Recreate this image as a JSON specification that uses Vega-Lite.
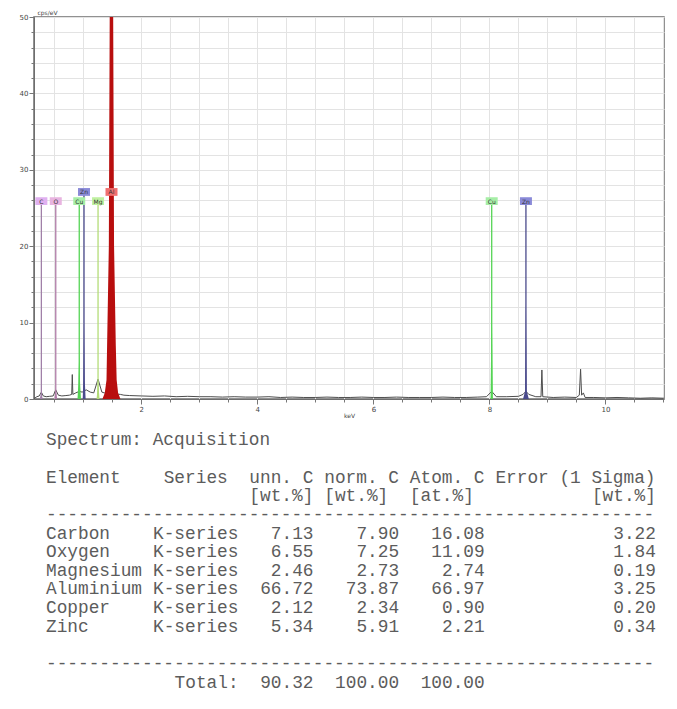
{
 "$schema": "https://vega.github.io/schema/vega-lite/v6.json",
 "background": "white",
 "padding": {"left": 18, "top": 8, "right": 0, "bottom": 0},
 "spacing": 4,
 "config": {
  "view": {"stroke": "#6e6e6e", "strokeWidth": 1.5},
  "font": "DejaVu Sans",
  "axis": {"domainColor": "#6e6e6e", "tickColor": "#777777", "labelColor": "#444444", "titleColor": "#444444", "labelFont": "DejaVu Sans", "titleFont": "DejaVu Sans"}
 },
 "datasets": {
  "spectrum": [
   {"e":0.15,"c":0.05},{"e":0.2,"c":0.3},{"e":0.24,"c":0.4},{"e":0.277,"c":0.9},{"e":0.31,"c":0.4},{"e":0.36,"c":0.3},{"e":0.42,"c":0.35},{"e":0.48,"c":0.4},{"e":0.525,"c":1.2},{"e":0.57,"c":0.5},{"e":0.63,"c":0.4},{"e":0.7,"c":0.45},{"e":0.76,"c":0.5},{"e":0.8,"c":0.6},{"e":0.81,"c":3.2},{"e":0.82,"c":0.6},{"e":0.87,"c":0.8},{"e":0.93,"c":1.0},{"e":0.98,"c":0.9},{"e":1.05,"c":1.2},{"e":1.12,"c":0.9},{"e":1.18,"c":0.8},{"e":1.254,"c":2.6},{"e":1.32,"c":0.9},{"e":1.36,"c":0.8},{"e":1.64,"c":0.6},{"e":1.7,"c":0.5},{"e":1.8,"c":0.45},{"e":2.0,"c":0.4},{"e":2.2,"c":0.35},{"e":2.4,"c":0.4},{"e":2.6,"c":0.3},{"e":2.8,"c":0.35},{"e":3.0,"c":0.3},{"e":3.2,"c":0.3},{"e":3.4,"c":0.25},{"e":3.6,"c":0.3},{"e":3.8,"c":0.25},{"e":4.0,"c":0.25},{"e":4.2,"c":0.3},{"e":4.4,"c":0.2},{"e":4.6,"c":0.25},{"e":4.8,"c":0.2},{"e":5.0,"c":0.2},{"e":5.2,"c":0.25},{"e":5.4,"c":0.2},{"e":5.6,"c":0.2},{"e":5.8,"c":0.25},{"e":6.0,"c":0.2},{"e":6.2,"c":0.2},{"e":6.4,"c":0.25},{"e":6.6,"c":0.2},{"e":6.8,"c":0.2},{"e":7.0,"c":0.2},{"e":7.2,"c":0.25},{"e":7.4,"c":0.2},{"e":7.6,"c":0.2},{"e":7.8,"c":0.25},{"e":7.95,"c":0.3},{"e":8.04,"c":1.0},{"e":8.12,"c":0.3},{"e":8.3,"c":0.3},{"e":8.5,"c":0.35},{"e":8.58,"c":0.6},{"e":8.63,"c":1.0},{"e":8.68,"c":0.6},{"e":8.8,"c":0.3},{"e":8.89,"c":0.3},{"e":8.905,"c":3.8},{"e":8.92,"c":0.3},{"e":9.1,"c":0.2},{"e":9.3,"c":0.25},{"e":9.5,"c":0.2},{"e":9.55,"c":0.5},{"e":9.572,"c":3.9},{"e":9.59,"c":0.5},{"e":9.62,"c":0.8},{"e":9.65,"c":0.2},{"e":9.8,"c":0.2},{"e":10.0,"c":0.15},{"e":10.2,"c":0.2},{"e":10.4,"c":0.15},{"e":10.6,"c":0.1},{"e":10.8,"c":0.15},{"e":11.01,"c":0.1}
  ],
  "peaks": [
   {"element":"C","peak":"C K","e":0.25,"c":0},{"element":"C","peak":"C K","e":0.277,"c":0.9},{"element":"C","peak":"C K","e":0.3,"c":0},
   {"element":"O","peak":"O K","e":0.5,"c":0},{"element":"O","peak":"O K","e":0.525,"c":1.2},{"element":"O","peak":"O K","e":0.55,"c":0},
   {"element":"Cu","peak":"Cu L","e":0.9,"c":0},{"element":"Cu","peak":"Cu L","e":0.915,"c":2.0},{"element":"Cu","peak":"Cu L","e":0.93,"c":6.0},{"element":"Cu","peak":"Cu L","e":0.945,"c":2.0},{"element":"Cu","peak":"Cu L","e":0.96,"c":0},
   {"element":"Zn","peak":"Zn L","e":0.99,"c":0},{"element":"Zn","peak":"Zn L","e":1.0,"c":2.5},{"element":"Zn","peak":"Zn L","e":1.012,"c":10.0},{"element":"Zn","peak":"Zn L","e":1.025,"c":2.5},{"element":"Zn","peak":"Zn L","e":1.04,"c":0},
   {"element":"Mg","peak":"Mg K","e":1.23,"c":0},{"element":"Mg","peak":"Mg K","e":1.254,"c":2.6},{"element":"Mg","peak":"Mg K","e":1.28,"c":0},
   {"element":"Al","peak":"Al K","e":1.33,"c":0},{"element":"Al","peak":"Al K","e":1.37,"c":0.8},{"element":"Al","peak":"Al K","e":1.4,"c":2.5},{"element":"Al","peak":"Al K","e":1.41,"c":7},{"element":"Al","peak":"Al K","e":1.44,"c":20},{"element":"Al","peak":"Al K","e":1.455,"c":50},{"element":"Al","peak":"Al K","e":1.47,"c":80},{"element":"Al","peak":"Al K","e":1.486,"c":90},{"element":"Al","peak":"Al K","e":1.5,"c":80},{"element":"Al","peak":"Al K","e":1.515,"c":50},{"element":"Al","peak":"Al K","e":1.53,"c":20},{"element":"Al","peak":"Al K","e":1.56,"c":7},{"element":"Al","peak":"Al K","e":1.575,"c":2.5},{"element":"Al","peak":"Al K","e":1.6,"c":0.8},{"element":"Al","peak":"Al K","e":1.64,"c":0},
   {"element":"Cu","peak":"Cu K","e":8.02,"c":0},{"element":"Cu","peak":"Cu K","e":8.04,"c":13.0},{"element":"Cu","peak":"Cu K","e":8.06,"c":0},
   {"element":"Zn","peak":"Zn K","e":8.58,"c":0},{"element":"Zn","peak":"Zn K","e":8.615,"c":1.0},{"element":"Zn","peak":"Zn K","e":8.63,"c":12.7},{"element":"Zn","peak":"Zn K","e":8.645,"c":1.0},{"element":"Zn","peak":"Zn K","e":8.68,"c":0}
  ],
  "markers": [
   {"element":"C","label":"C","e":0.277,"tier":1},
   {"element":"O","label":"O","e":0.525,"tier":1},
   {"element":"Cu","label":"Cu","e":0.93,"tier":1},
   {"element":"Zn","label":"Zn","e":1.012,"tier":2},
   {"element":"Mg","label":"Mg","e":1.254,"tier":1},
   {"element":"Al","label":"Al","e":1.486,"tier":2},
   {"element":"Cu","label":"Cu","e":8.04,"tier":1},
   {"element":"Zn","label":"Zn","e":8.63,"tier":1}
  ],
  "report": [
   {"line":0,"col":0,"text":"Spectrum: Acquisition","type":"text"},
   {"line":2,"col":0,"text":"Element","type":"text"},
   {"line":2,"col":11,"text":"Series","type":"text"},
   {"line":2,"col":19,"text":"unn. C","type":"text"},
   {"line":2,"col":26,"text":"norm. C","type":"text"},
   {"line":2,"col":34,"text":"Atom. C","type":"text"},
   {"line":2,"col":42,"text":"Error (1 Sigma)","type":"text"},
   {"line":3,"col":19,"text":"[wt.%]","type":"text"},
   {"line":3,"col":26,"text":"[wt.%]","type":"text"},
   {"line":3,"col":34,"text":"[at.%]","type":"text"},
   {"line":3,"col":57,"text":"[wt.%]","type":"num"},
   {"line":4,"col":0,"text":"---------------------------------------------------------","type":"text"},
   {"line":5,"col":0,"text":"Carbon","type":"text"},{"line":5,"col":10,"text":"K-series","type":"text"},{"line":5,"col":25,"text":"7.13","type":"num"},{"line":5,"col":33,"text":"7.90","type":"num"},{"line":5,"col":41,"text":"16.08","type":"num"},{"line":5,"col":57,"text":"3.22","type":"num"},
   {"line":6,"col":0,"text":"Oxygen","type":"text"},{"line":6,"col":10,"text":"K-series","type":"text"},{"line":6,"col":25,"text":"6.55","type":"num"},{"line":6,"col":33,"text":"7.25","type":"num"},{"line":6,"col":41,"text":"11.09","type":"num"},{"line":6,"col":57,"text":"1.84","type":"num"},
   {"line":7,"col":0,"text":"Magnesium","type":"text"},{"line":7,"col":10,"text":"K-series","type":"text"},{"line":7,"col":25,"text":"2.46","type":"num"},{"line":7,"col":33,"text":"2.73","type":"num"},{"line":7,"col":41,"text":"2.74","type":"num"},{"line":7,"col":57,"text":"0.19","type":"num"},
   {"line":8,"col":0,"text":"Aluminium","type":"text"},{"line":8,"col":10,"text":"K-series","type":"text"},{"line":8,"col":25,"text":"66.72","type":"num"},{"line":8,"col":33,"text":"73.87","type":"num"},{"line":8,"col":41,"text":"66.97","type":"num"},{"line":8,"col":57,"text":"3.25","type":"num"},
   {"line":9,"col":0,"text":"Copper","type":"text"},{"line":9,"col":10,"text":"K-series","type":"text"},{"line":9,"col":25,"text":"2.12","type":"num"},{"line":9,"col":33,"text":"2.34","type":"num"},{"line":9,"col":41,"text":"0.90","type":"num"},{"line":9,"col":57,"text":"0.20","type":"num"},
   {"line":10,"col":0,"text":"Zinc","type":"text"},{"line":10,"col":10,"text":"K-series","type":"text"},{"line":10,"col":25,"text":"5.34","type":"num"},{"line":10,"col":33,"text":"5.91","type":"num"},{"line":10,"col":41,"text":"2.21","type":"num"},{"line":10,"col":57,"text":"0.34","type":"num"},
   {"line":12,"col":0,"text":"---------------------------------------------------------","type":"text"},
   {"line":13,"col":18,"text":"Total:","type":"num"},{"line":13,"col":25,"text":"90.32","type":"num"},{"line":13,"col":33,"text":"100.00","type":"num"},{"line":13,"col":41,"text":"100.00","type":"num"}
  ]
 },
 "vconcat": [
  {
   "width": 630,
   "height": 382,
   "resolve": {"axis": {"x": "independent", "y": "independent"}},
   "layer": [
    {
     "data": {"name": "spectrum"},
     "mark": {"type": "line", "color": "#4d4d4d", "strokeWidth": 1, "clip": true},
     "encoding": {
      "x": {"field": "e", "type": "quantitative", "scale": {"domain": [0.15, 11.01], "nice": false, "zero": false},
            "axis": {"orient": "bottom", "values": [2, 4, 6, 8, 10], "title": "keV", "grid": false, "tickSize": 5, "labelFontSize": 7, "labelPadding": 1, "titleFontSize": 6, "titleFontWeight": "normal", "titlePadding": 0}},
      "y": {"field": "c", "type": "quantitative", "scale": {"domain": [0, 50], "nice": false, "zero": true},
            "axis": {"orient": "left", "values": [0, 10, 20, 30, 40, 50], "title": "cps/eV", "grid": false, "tickSize": 5, "labelFontSize": 7, "labelPadding": 1, "titleFontSize": 6, "titleFontWeight": "normal", "titleAngle": 0, "titleAlign": "left", "titleBaseline": "bottom", "titleX": 3, "titleY": -2}}
     }
    },
    {
     "data": {"name": "peaks"},
     "mark": {"type": "area", "clip": true, "opacity": 1},
     "encoding": {
      "x": {"field": "e", "type": "quantitative", "scale": {"domain": [0.15, 11.01], "nice": false, "zero": false},
            "axis": {"orient": "bottom", "values": [0.5,1,1.5,2,2.5,3,3.5,4,4.5,5,5.5,6,6.5,7,7.5,8,8.5,9,9.5,10,10.5,11], "labels": false, "title": null, "domain": false, "grid": true, "gridColor": "#e3e3e3", "gridWidth": 1, "tickSize": 3}},
      "y": {"field": "c", "type": "quantitative", "stack": null, "scale": {"domain": [0, 50], "nice": false, "zero": true},
            "axis": {"orient": "left", "values": [0,2,4,6,8,10,12,14,16,18,20,22,24,26,28,30,32,34,36,38,40,42,44,46,48,50], "labels": false, "title": null, "domain": false, "grid": true, "gridColor": "#e3e3e3", "gridWidth": 1, "tickSize": 3}},
      "color": {"field": "element", "type": "nominal", "legend": null,
                "scale": {"domain": ["C", "O", "Cu", "Zn", "Mg", "Al"], "range": ["#a080a8", "#b07ca8", "#55d455", "#4a4a8c", "#b4dc78", "#b80e0e"]}},
      "detail": {"field": "peak"}
     }
    },
    {
     "data": {"name": "markers"},
     "transform": [{"filter": "datum.tier == 1"}],
     "mark": {"type": "rule", "strokeWidth": 1.3},
     "encoding": {
      "x": {"field": "e", "type": "quantitative", "axis": null},
      "y": {"datum": 0, "type": "quantitative", "axis": null},
      "y2": {"datum": 25.9},
      "color": {"field": "element", "type": "nominal", "legend": null}
     }
    },
    {
     "data": {"name": "markers"},
     "transform": [{"filter": "datum.tier == 2"}],
     "mark": {"type": "rule", "strokeWidth": 1.3},
     "encoding": {
      "x": {"field": "e", "type": "quantitative", "axis": null},
      "y": {"datum": 0, "type": "quantitative", "axis": null},
      "y2": {"datum": 27.1},
      "color": {"field": "element", "type": "nominal", "legend": null}
     }
    },
    {
     "data": {"name": "markers"},
     "transform": [{"filter": "datum.tier == 1"}],
     "mark": {"type": "point", "shape": "M-1,-0.65L1,-0.65L1,0.65L-1,0.65Z", "size": 144, "filled": true, "opacity": 1, "strokeWidth": 0},
     "encoding": {
      "x": {"field": "e", "type": "quantitative", "axis": null},
      "y": {"datum": 25.9, "type": "quantitative", "axis": null},
      "fill": {"field": "element", "type": "nominal", "legend": null,
               "scale": {"domain": ["C", "O", "Cu", "Zn", "Mg", "Al"], "range": ["#e0b0f0", "#e8b4e0", "#a6eea6", "#8a8ad8", "#bff0a0", "#f07070"]}}
     }
    },
    {
     "data": {"name": "markers"},
     "transform": [{"filter": "datum.tier == 2"}],
     "mark": {"type": "point", "shape": "M-1,-0.65L1,-0.65L1,0.65L-1,0.65Z", "size": 144, "filled": true, "opacity": 1, "strokeWidth": 0},
     "encoding": {
      "x": {"field": "e", "type": "quantitative", "axis": null},
      "y": {"datum": 27.1, "type": "quantitative", "axis": null},
      "fill": {"field": "element", "type": "nominal", "legend": null}
     }
    },
    {
     "data": {"name": "markers"},
     "transform": [{"filter": "datum.tier == 1"}],
     "mark": {"type": "text", "fontSize": 6, "color": "#333333", "align": "center", "baseline": "middle", "dy": 0.5},
     "encoding": {
      "x": {"field": "e", "type": "quantitative", "axis": null},
      "y": {"datum": 25.9, "type": "quantitative", "axis": null},
      "text": {"field": "label"}
     }
    },
    {
     "data": {"name": "markers"},
     "transform": [{"filter": "datum.tier == 2"}],
     "mark": {"type": "text", "fontSize": 6, "color": "#333333", "align": "center", "baseline": "middle", "dy": 0.5},
     "encoding": {
      "x": {"field": "e", "type": "quantitative", "axis": null},
      "y": {"datum": 27.1, "type": "quantitative", "axis": null},
      "text": {"field": "label"}
     }
    }
   ]
  },
  {
   "width": 640,
   "height": 280,
   "view": {"stroke": null},
   "data": {"name": "report"},
   "layer": [
    {
     "transform": [{"filter": "datum.type == 'text'"}],
     "mark": {"type": "text", "font": "Liberation Mono", "fontSize": 17.8, "color": "#5c5c5c", "align": "left", "baseline": "middle"},
     "encoding": {
      "x": {"field": "col", "type": "quantitative", "scale": {"domain": [-1.121, 58.69], "nice": false, "zero": false}, "axis": null},
      "y": {"field": "line", "type": "quantitative", "scale": {"domain": [-0.927, 14.086], "nice": false, "zero": false, "reverse": true}, "axis": null},
      "text": {"field": "text"}
     }
    },
    {
     "transform": [{"filter": "datum.type == 'num'"}],
     "mark": {"type": "text", "font": "Liberation Mono", "fontSize": 17.8, "color": "#5c5c5c", "align": "right", "baseline": "middle"},
     "encoding": {
      "x": {"field": "col", "type": "quantitative", "axis": null},
      "y": {"field": "line", "type": "quantitative", "axis": null},
      "text": {"field": "text"}
     }
    }
   ]
  }
 ]
}
